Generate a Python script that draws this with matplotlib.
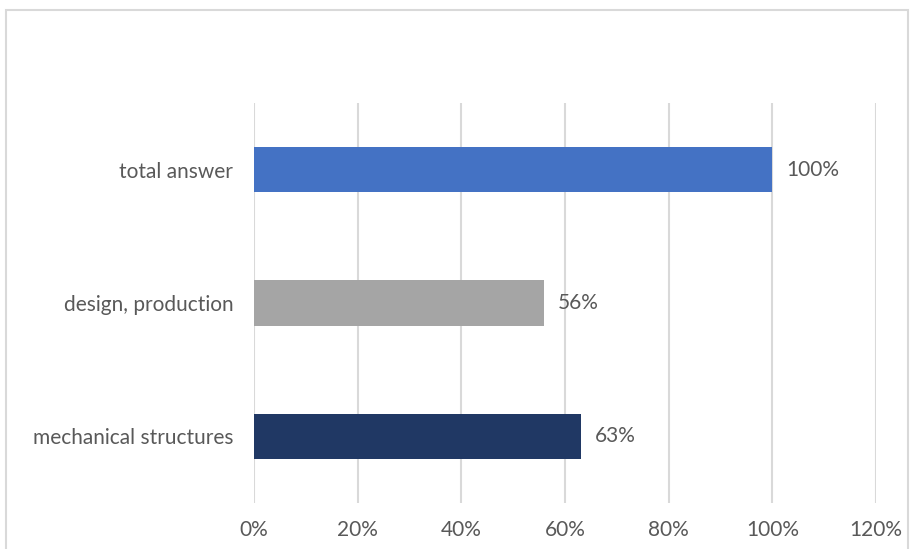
import matplotlib
matplotlib.use('Agg')
import matplotlib.pyplot as plt
from matplotlib.patches import Rectangle
from matplotlib.ticker import FuncFormatter

categories = ['mechanical structures', 'design, production', 'total answer']
values = [0.63, 0.56, 1.00]
colors = ['#203864', '#A5A5A5', '#4472C4']
ticks = [0, 0.2, 0.4, 0.6, 0.8, 1.0, 1.2]

plt.rcParams['font.family'] = ['Lato', 'DejaVu Sans']
text_color = '#595959'
fsize = 15

fig = plt.figure(figsize=(9.11, 5.49), dpi=100)
ax = fig.add_axes([254 / 911, 1 - 503 / 549, (876 - 254) / 911, 400 / 549])

# outer chart border
fig.patches.append(Rectangle((6 / 911, -0.1), (908 - 6) / 911, 1.1 - 10 / 549,
                             transform=fig.transFigure, fill=False,
                             edgecolor='#D9D9D9', linewidth=1.5))

ypos = range(len(categories))
ax.barh(ypos, values, height=0.34, color=colors, zorder=3)
for y, v in zip(ypos, values):
    ax.annotate(f'{v:.0%}', (v, y), xytext=(10, 0), textcoords='offset points',
                va='center', ha='left', fontsize=fsize, color=text_color)

ax.set_xlim(0, 1.2)
ax.set_ylim(-0.5, 2.5)
ax.set_xticks(ticks)
ax.xaxis.set_major_formatter(FuncFormatter(lambda x, _: f'{x:.0%}'))
ax.set_yticks(list(ypos))
ax.set_yticklabels(categories)
ax.grid(axis='x', color='#D9D9D9', linewidth=1.5, zorder=0)
for s in ax.spines.values():
    s.set_visible(False)
ax.tick_params(axis='both', length=0, labelsize=fsize, labelcolor=text_color)
ax.tick_params(axis='x', pad=12)
ax.tick_params(axis='y', pad=15)

fig.savefig('out.png', dpi=100)
